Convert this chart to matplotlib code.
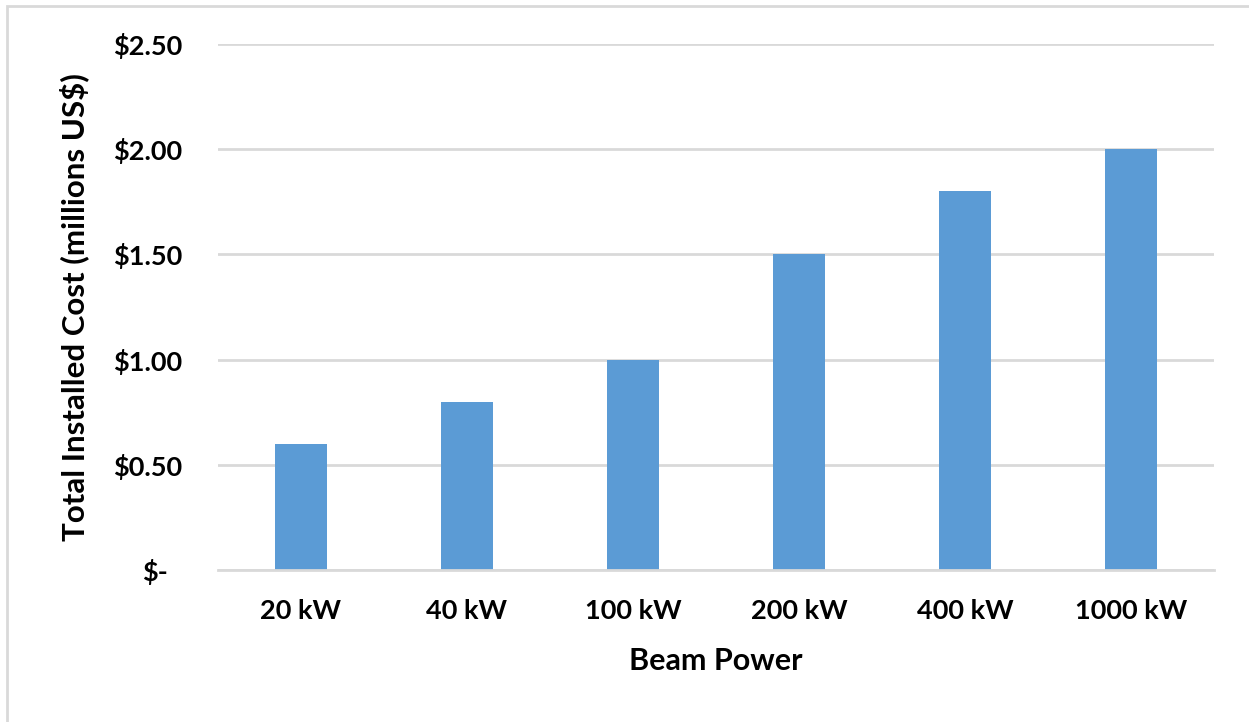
import matplotlib.pyplot as plt
import matplotlib.transforms as mtransforms
from matplotlib.patches import Rectangle

plt.rcParams['font.family'] = ['Lato', 'DejaVu Sans']

# Installed cost by beam power (millions US$)
beam_power = ['20 kW', '40 kW', '100 kW', '200 kW', '400 kW', '1000 kW']
cost = [0.60, 0.80, 1.00, 1.50, 1.80, 2.00]
y_ticks = [0.0, 0.5, 1.0, 1.5, 2.0, 2.5]
y_labels = ['$-', '$0.50', '$1.00', '$1.50', '$2.00', '$2.50']

bar_color = '#5B9BD5'
grid_color = '#D9D9D9'

fig = plt.figure(figsize=(12.49, 7.22), dpi=100)
ax = fig.add_axes([0.1745, 0.2105, 0.7975, 0.7285])

x = range(len(beam_power))
ax.bar(x, cost, width=0.31, color=bar_color, zorder=3)

ax.set_xlim(-0.5, len(beam_power) - 0.5)
ax.set_ylim(0, 2.5)
ax.set_yticks(y_ticks)
ax.set_yticklabels(y_labels)
ax.set_xticks(list(x))
ax.set_xticklabels(beam_power)

ax.tick_params(axis='y', length=0, pad=26, labelsize=19.5)
ax.tick_params(axis='x', length=0, pad=21, labelsize=19.5)
for lbl in ax.get_yticklabels() + ax.get_xticklabels():
    lbl.set_fontweight('bold')

# accounting style: the dash for zero sits a bit in from the right edge
zero_lbl = ax.get_yticklabels()[0]
zero_lbl.set_transform(zero_lbl.get_transform()
                       + mtransforms.ScaledTranslation(-10 / 72, 0, fig.dpi_scale_trans))

ax.grid(axis='y', color=grid_color, linewidth=2, zorder=0)
ax.set_axisbelow(True)
for side in ['top', 'right', 'left']:
    ax.spines[side].set_visible(False)
ax.spines['bottom'].set_color(grid_color)
ax.spines['bottom'].set_linewidth(2)
ax.spines['bottom'].set_zorder(4)

ax.set_xlabel('Beam Power', fontsize=22, fontweight='bold', labelpad=17)
ax.set_ylabel('Total Installed Cost (millions US$)', fontsize=22.5, fontweight='bold', labelpad=17)

# light frame around the chart area
fig.patches.append(Rectangle((7 / 1249, -0.05), 1.2, 1 - 6 / 722 + 0.05,
                             transform=fig.transFigure, fill=False,
                             edgecolor=grid_color, linewidth=2))

fig.savefig('out.png', dpi=100)
